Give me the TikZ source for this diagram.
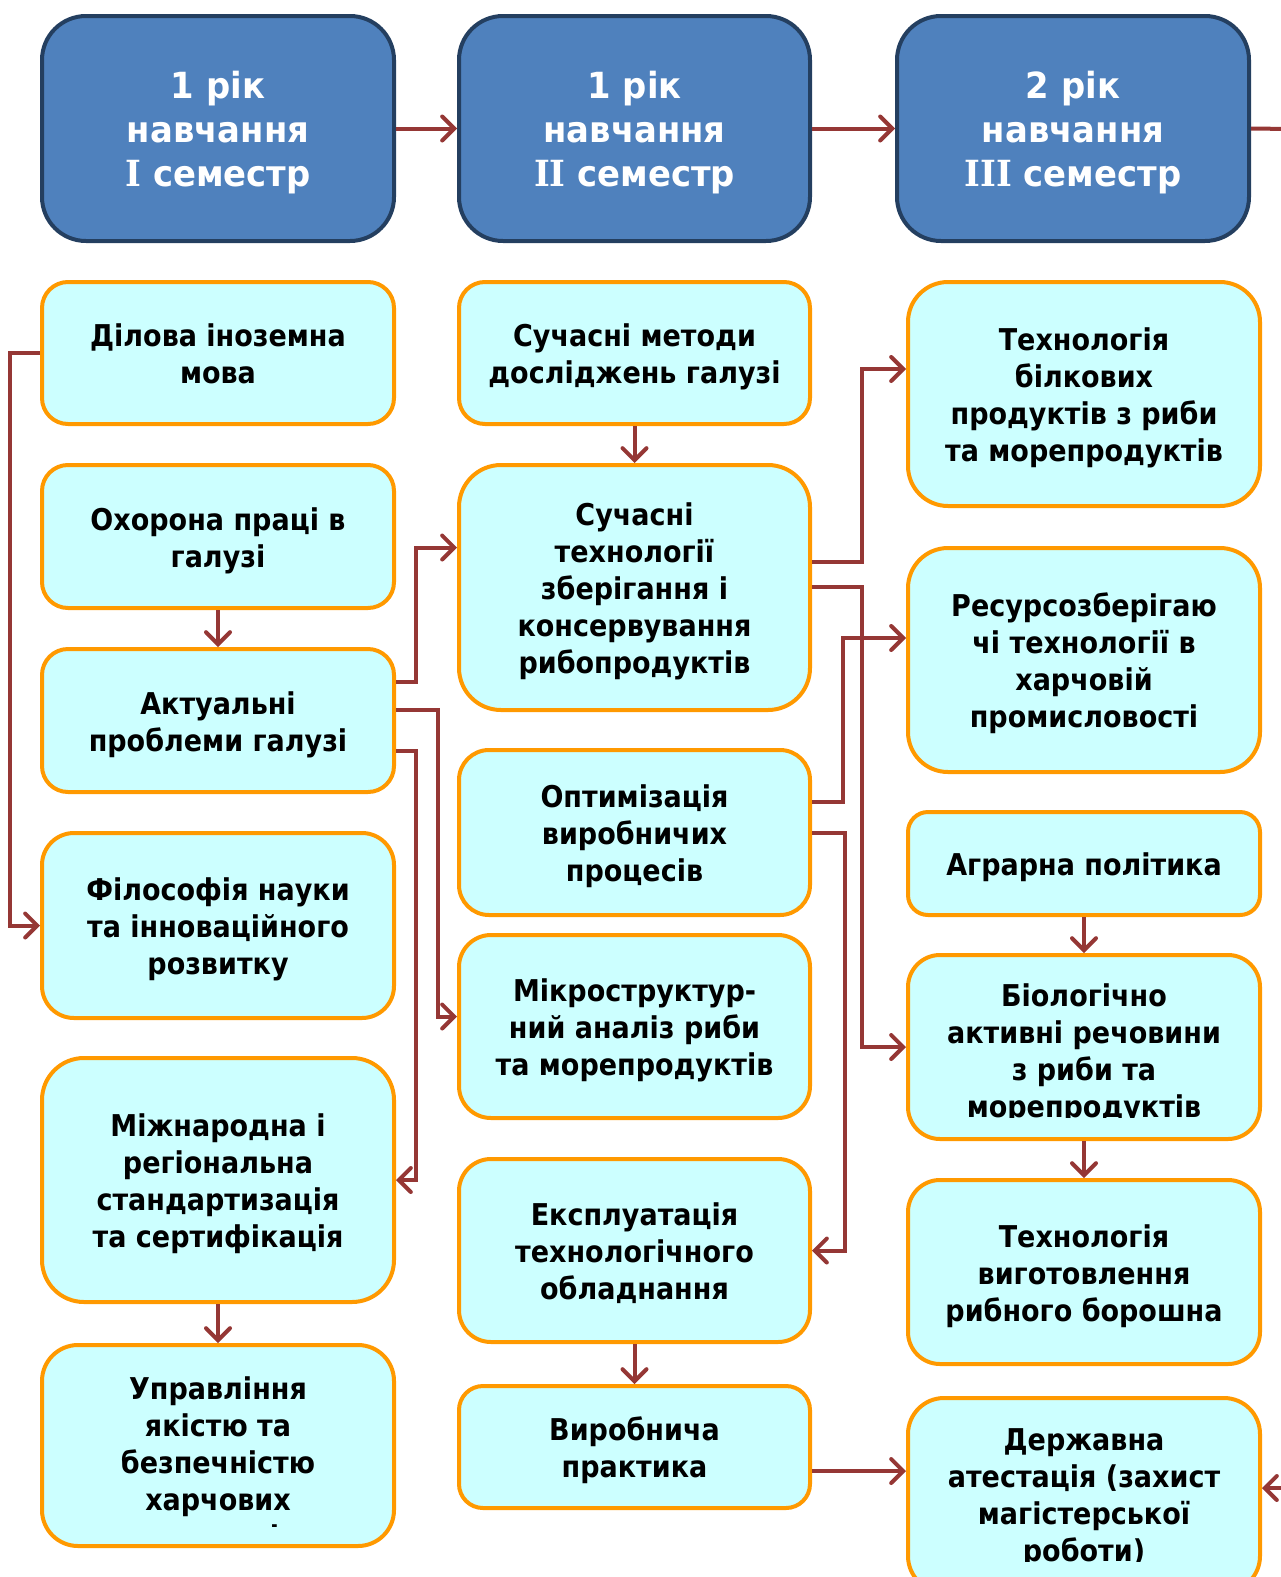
\documentclass[tikz,border=0pt]{standalone}
\usepackage{fontspec}
\setmainfont{DejaVu Sans}[FakeStretch=0.9]
\newfontfamily\hdrfont{DejaVu Sans}[FakeStretch=0.94]
\newfontfamily\romI{DejaVu Serif}[FakeStretch=0.94]
\usetikzlibrary{arrows.meta}
\definecolor{hdrfill}{HTML}{4F81BD}
\definecolor{hdrline}{HTML}{243F60}
\definecolor{boxfill}{HTML}{CCFFFF}
\definecolor{boxline}{HTML}{FF9900}
\definecolor{arrowc}{HTML}{953735}
\newcommand\topstrut{\rule{0pt}{32pt}}
\newcommand\botstrut{\rule[-8pt]{0pt}{8pt}}
\newcommand\htopstrut{\rule{0pt}{35pt}}
\newcommand\hbotstrut{\rule[-8pt]{0pt}{8pt}}
\newcommand\mkbox[8][]{%
  \node[bx,#1,rounded corners=#7, minimum width={#5-#3}, minimum height={#6-#4}] (#2) at ({(#3+#5)/2},{(#4+#6)/2}) {\topstrut#8\botstrut};}
\newcommand\mkhdr[7]{%
  \node[hdr,rounded corners=#6, minimum width={#4-#2}, minimum height={#5-#3}] (#1) at ({(#2+#4)/2},{(#3+#5)/2}) {\htopstrut#7\hbotstrut};}
\begin{document}
\begin{tikzpicture}[x=1pt,y=-1pt,
  bx/.style={draw=boxline, fill=boxfill, line width=4pt, text=black,
    font=\bfseries\fontsize{30}{37}\selectfont, align=center, inner sep=0pt},
  hdr/.style={draw=hdrline, fill=hdrfill, line width=4pt, text=white,
    font=\hdrfont\bfseries\fontsize{36}{44}\selectfont, align=center, inner sep=0pt},
  txt/.style={text=black, font=\bfseries\fontsize{30}{37}\selectfont, align=center, inner sep=0pt},
  conn/.style={draw=arrowc, line width=4pt, -{Straight Barb[length=12pt,width=24pt,line cap=round]}},
  plain/.style={draw=arrowc, line width=4pt}]
\useasboundingbox (0,0) rectangle (1280,1577);
% headers
\mkhdr{h1}{42}{16}{394}{241}{44}{1 рік\\навчання\\{\romI I} семестр}
\mkhdr{h2}{459}{16}{810}{241}{44}{1 рік\\навчання\\{\romI II} семестр}
\mkhdr{h3}{897}{16}{1249}{241}{44}{2 рік\\навчання\\{\romI III} семестр}
% column 1
\mkbox{dil}{42}{282}{394}{424}{26}{Ділова іноземна\\мова}
\mkbox{oh}{42}{465}{394}{608}{26}{Охорона праці в\\галузі}
\mkbox{akt}{42}{649}{394}{792}{26}{Актуальні\\проблеми галузі}
\mkbox{fil}{42}{833}{394}{1018}{32}{Філософія науки\\та інноваційного\\розвитку}
\mkbox{mizh}{42}{1058}{394}{1302}{42}{Міжнародна і\\регіональна\\стандартизація\\та сертифікація}
\mkbox{upr}{42}{1345}{394}{1546}{36}{}
\begin{scope}
\clip (44,1347) rectangle (392,1526);
\node[txt] (uprt) at (218,1461.5) {\topstrut Управління\\якістю та\\безпечністю\\харчових\\продуктів\botstrut};
\end{scope}
% column 2
\mkbox{met}{459}{282}{810}{424}{26}{Сучасні методи\\досліджень галузі}
\mkbox{tech}{459}{465}{810}{710}{42}{Сучасні\\технології\\зберігання і\\консервування\\рибопродуктів}
\mkbox{opt}{459}{750}{810}{915}{30}{Оптимізація\\виробничих\\процесів}
\mkbox{mic}{459}{935}{810}{1118}{32}{Мікроструктур-\\ний аналіз риби\\та морепродуктів}
\mkbox{expl}{459}{1159}{810}{1342}{32}{Експлуатація\\технологічного\\обладнання}
\mkbox{vyr}{459}{1386}{810}{1508}{24}{Виробнича\\практика}
% column 3
\mkbox{bilk}{908}{282}{1260}{506}{40}{Технологія\\білкових\\продуктів з риби\\та морепродуктів}
\mkbox{res}{908}{548}{1260}{772}{40}{Ресурсозберігаю\\чі технології в\\харчовій\\промисловості}
\mkbox{agr}{908}{812}{1260}{915}{20}{Аграрна політика}
\mkbox{bio}{908}{955}{1260}{1139}{32}{}
\begin{scope}
\clip (910,957) rectangle (1258,1117);
\node[txt] (biot) at (1084,1049.5) {\topstrut Біологічно\\активні речовини\\з риби та\\морепродуктів\botstrut};
\end{scope}
\mkbox{bor}{908}{1180}{1260}{1364}{32}{Технологія\\виготовлення\\рибного борошна}
\mkbox{derzh}{908}{1398}{1260}{1592}{36}{}
\begin{scope}
\clip (910,1400) rectangle (1258,1561);
\node[txt] (derzht) at (1084,1494) {\topstrut Державна\\атестація (захист\\магістерської\\роботи)\botstrut};
\end{scope}
% header connectors
\coordinate (hout) at (1290,129);
\draw[conn] (h1.east) -- (h2.west);
\draw[conn] (h2.east) -- (h3.west);
\draw[plain] (h3.east) -- (hout);
% column 1 connectors
\draw[conn] (dil.west) -- ++(-30,0) |- (fil.west);
\draw[conn] (oh.south) -- (akt.north);
\draw[conn] ([yshift=39pt]akt.east) -- ++(20,0) |- ([yshift=40pt]tech.west);
\draw[conn] ([yshift=11pt]akt.east) -- ++(42,0) |- ([yshift=10pt]mic.west);
\draw[conn] ([yshift=-30pt]akt.east) -- ++(20,0) |- (mizh.east);
\draw[conn] (mizh.south) -- (upr.north);
% column 2 connectors
\draw[conn] (met.south) -- (tech.north);
\draw[conn] ([yshift=26pt]tech.east) -- ++(50,0) |- ([yshift=25pt]bilk.west);
\draw[conn] ([yshift=1pt]tech.east) -- ++(50,0) |- (bio.west);
\draw[conn] ([yshift=31pt]opt.east) -- ++(31,0) |- ([yshift=22pt]res.west);
\draw[conn] (opt.east) -- ++(33,0) |- (expl.east);
\draw[conn] (expl.south) -- (vyr.north);
\coordinate (vo) at ([yshift=-24pt]vyr.east);
\draw[conn] (vo) -- (vo -| derzh.west);
% column 3 connectors
\draw[conn] (agr.south) -- (bio.north);
\draw[conn] (bio.south) -- (bor.north);
\coordinate (rin) at (1290,1488);
\draw[conn] (rin) -- (rin -| derzh.east);
\end{tikzpicture}
\end{document}
